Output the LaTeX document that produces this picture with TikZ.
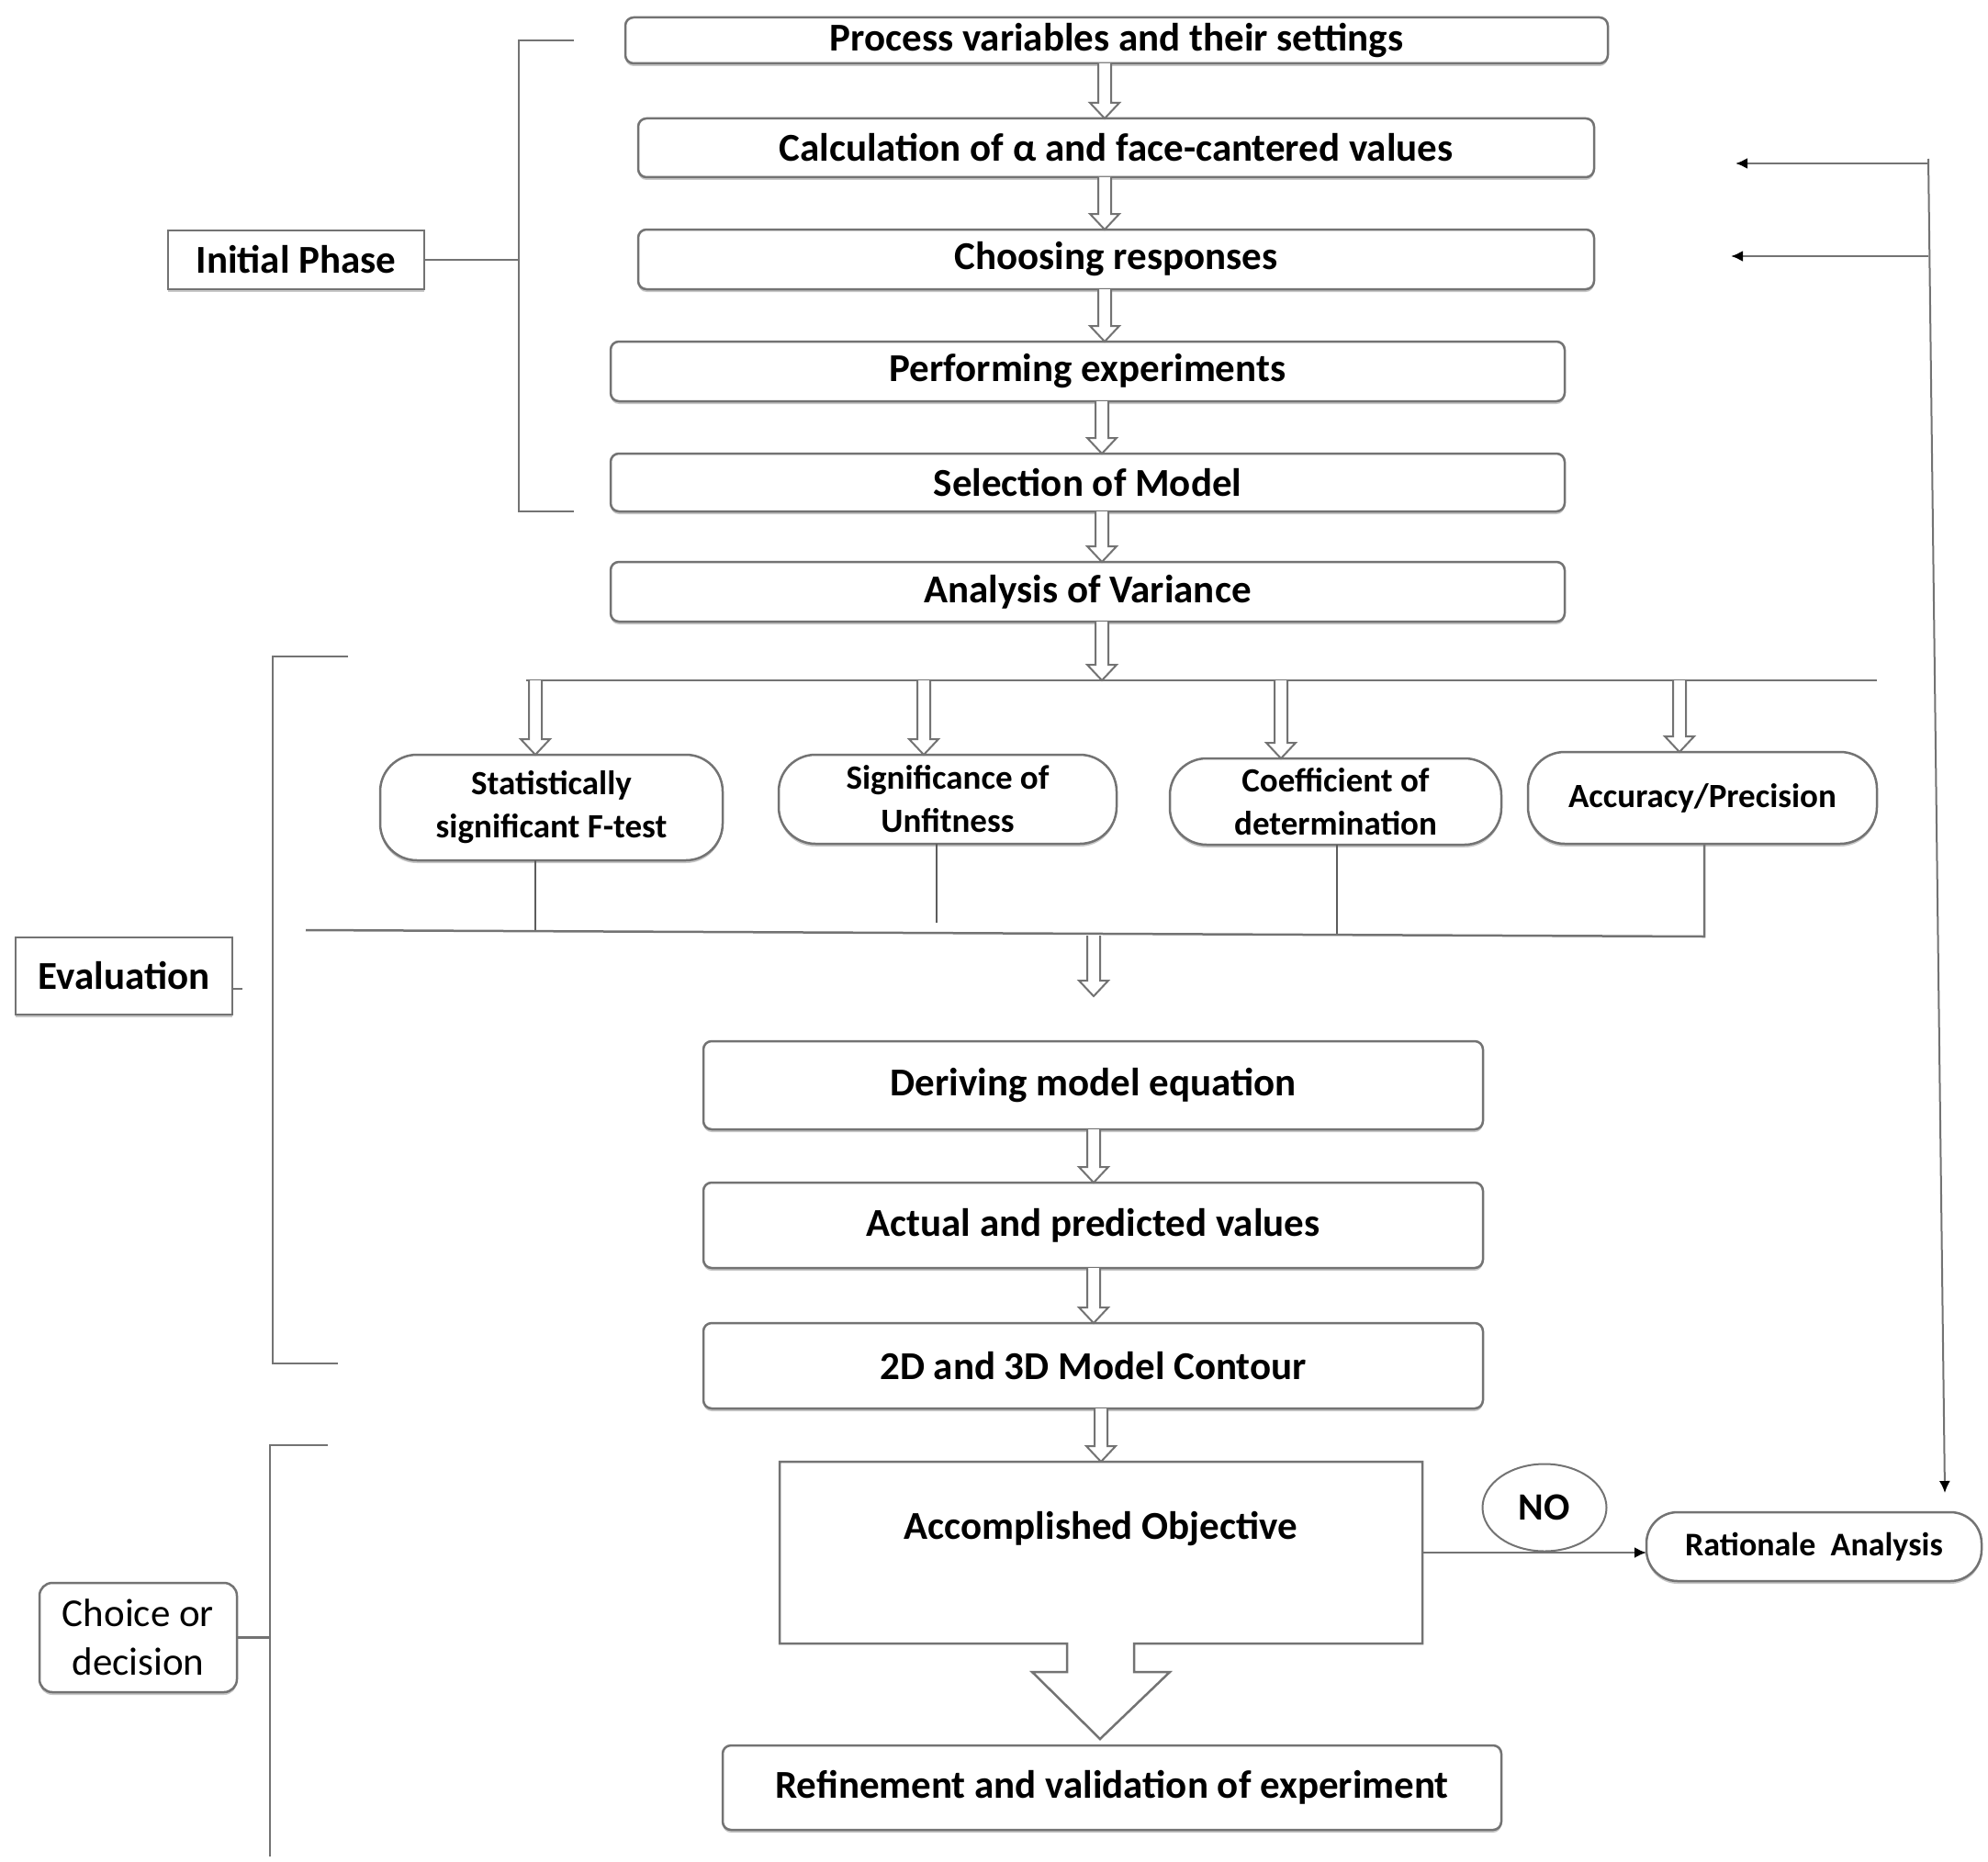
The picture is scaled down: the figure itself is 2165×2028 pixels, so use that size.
\documentclass[tikz,border=0pt]{standalone}
\usepackage{fontspec}
\setmainfont{Carlito}
\usetikzlibrary{arrows.meta,calc,shadows,shapes.geometric}
\definecolor{bd}{RGB}{115,115,115}
\begin{document}
\begin{tikzpicture}[x=1pt,y=-1pt,
  every node/.style={inner sep=0pt, outer sep=0pt},
  shad/.style={drop shadow={shadow xshift=0pt,shadow yshift=-3pt,fill=black!22,opacity=1}},
  box/.style={draw=bd, line width=2.5pt, rounded corners=9pt, fill=white, shad,
    font=\fontsize{43}{52}\selectfont\bfseries, align=center},
  oval/.style={box, rounded corners=40pt, font=\fontsize{37}{47}\selectfont\bfseries},
  sbox/.style={draw=bd, line width=2.5pt, fill=white, shad, font=\fontsize{43}{52}\selectfont\bfseries},
  hollow/.style={draw=bd, line width=2pt, fill=white,
    to path={let \p1=(\tikztostart), \p2=(\tikztotarget) in
      (\x1-7pt,\y1) -- (\x1-7pt,\y2+17pt) -- (\x1-16pt,\y2+17pt) -- (\x1,\y2)
      -- (\x1+16pt,\y2+17pt) -- (\x1+7pt,\y2+17pt) -- (\x1+7pt,\y1)}},
  ln/.style={draw=bd, line width=2.5pt},
  thinln/.style={draw=bd!80!black, line width=1.6pt},
  tip/.style={-{Latex[length=13pt,width=12pt,black]}, line width=2.5pt, draw=bd}
]
\useasboundingbox (0,0) rectangle (2165,2028);

% main boxes
\node[box, minimum width=1070pt, minimum height=50pt] (b1) at (1216,44) {Process variables and their settings};
\node[box, minimum width=1041pt, minimum height=64pt] (b2) at (1215.5,161) {Calculation of α and face-cantered values};
\node[box, minimum width=1041pt, minimum height=65pt] (b3) at (1215.5,282.5) {Choosing responses};
\node[box, minimum width=1039pt, minimum height=65pt] (b4) at (1184.5,404.5) {Performing experiments};
\node[box, minimum width=1039pt, minimum height=63pt] (b5) at (1184.5,525.5) {Selection of Model};
\node[box, minimum width=1039pt, minimum height=65pt] (b6) at (1184.5,644.5) {Analysis of Variance};

\coordinate (ax) at (1203,0);
\coordinate (ay) at (1200,0);
\draw[hollow] (b1.south -| ax) to (b2.north -| ax);
\draw[hollow] (b2.south -| ax) to (b3.north -| ax);
\draw[hollow] (b3.south -| ax) to (b4.north -| ax);
\draw[hollow] (b4.south -| ay) to (b5.north -| ay);
\draw[hollow] (b5.south -| ay) to (b6.north -| ay);

% initial phase bracket
\node[sbox, minimum width=279pt, minimum height=64pt] (ip) at (322.5,283) {Initial Phase};
\coordinate (ia) at (625,44);
\coordinate (ib) at (565,44);
\coordinate (ic) at (565,557);
\coordinate (id) at (625,557);
\draw[ln] (ia) -- (ib) -- (ic) -- (id);
\draw[ln] (ip.east) -- (ip.east -| ib);

% distribution line
\coordinate (dl) at (1200,741);
\coordinate (dl1) at (573,741);
\coordinate (dl2) at (2044,741);
\draw[ln] (dl1) -- (dl2);
\draw[hollow] (b6.south -| dl) to (dl);

% ovals
\node[oval, minimum width=373pt, minimum height=115pt] (sa) at (600.5,879.5) {Statistically\\significant F-test};
\node[oval, minimum width=368pt, minimum height=97pt] (sb) at (1032,870.5) {Significance of\\Unfitness};
\node[oval, minimum width=361pt, minimum height=94pt] (sc) at (1454.5,873) {Coefficient of\\determination};
\node[oval, minimum width=380pt, minimum height=100pt] (sd) at (1854,869) {Accuracy/Precision};

\coordinate (t1) at (583,741);
\coordinate (t2) at (1006,741);
\coordinate (t3) at (1395,741);
\coordinate (t4) at (1829,741);
\draw[hollow] (t1) to (t1 |- sa.north);
\draw[hollow] (t2) to (t2 |- sb.north);
\draw[hollow] (t3) to (t3 |- sc.north);
\draw[hollow] (t4) to (t4 |- sd.north);

% collecting line
\coordinate (bl1) at (333,1013);
\coordinate (bl2) at (1856,1020);
\coordinate (v1) at (583,1014);
\coordinate (v2) at (1020,1005);
\coordinate (v3) at (1456,1017);
\draw[thinln] (v1 |- sa.south) -- (v1);
\draw[thinln] (v2 |- sb.south) -- (v2);
\draw[thinln] (v3 |- sc.south) -- (v3);
\draw[ln] (bl1) -- (bl2) -- (bl2 |- sd.south);
\coordinate (h1) at (1191,1019);
\coordinate (h2) at (1191,1085);
\draw[hollow] (h1) to (h2);

% evaluation boxes
\node[box, minimum width=849pt, minimum height=96pt] (b7) at (1190.5,1182) {Deriving model equation};
\node[box, minimum width=849pt, minimum height=93pt] (b8) at (1190.5,1334.5) {Actual and predicted values};
\node[box, minimum width=849pt, minimum height=93pt] (b9) at (1190.5,1487.5) {2D and 3D Model Contour};
\coordinate (cx) at (1191,0);
\draw[hollow] (b7.south -| cx) to (b8.north -| cx);
\draw[hollow] (b8.south -| cx) to (b9.north -| cx);

% evaluation bracket
\node[sbox, minimum width=236pt, minimum height=84pt] (ev) at (135,1063) {Evaluation};
\coordinate (ea) at (379,715);
\coordinate (eb) at (297,715);
\coordinate (ec) at (297,1485);
\coordinate (ed) at (368,1485);
\draw[ln] (ea) -- (eb) -- (ec) -- (ed);
\draw[ln] ($(ev.east)+(0,14)$) -- ++(11,0);

% accomplished objective
\node[minimum width=700pt, minimum height=198pt] (acc) at (1199,1691) {};
\draw[hollow] (b9.south -| acc.north) to (acc.north);
\draw[ln, line join=miter, fill=white] ($(acc.south)+(-37,0)$) -- (acc.south west) -- (acc.north west)
  -- (acc.north east) -- (acc.south east) -- ($(acc.south)+(36,0)$) -- ($(acc.south)+(36,31)$)
  -- ($(acc.south)+(75,31)$) -- ($(acc.south)+(-1,104)$) -- ($(acc.south)+(-75,31)$)
  -- ($(acc.south)+(-37,31)$) -- cycle;
\node[font=\fontsize{43}{52}\selectfont\bfseries] (acct) at ($(acc.center)+(0,-26)$) {Accomplished Objective};

\node[box, minimum width=848pt, minimum height=92pt] (ref) at (1211,1947) {Refinement and validation of experiment};

% NO and rationale
\node[draw=bd, ellipse, line width=2pt, fill=white, minimum width=135pt, minimum height=95pt,
  font=\fontsize{42}{50}\selectfont\bfseries] (no) at (1682,1642) {NO};
\node[oval, rounded corners=34pt, minimum width=365pt, minimum height=75pt,
  font=\fontsize{36}{44}\selectfont\bfseries] (ra) at (1975.5,1684.5) {Rationale\ \ Analysis};
\draw[tip] (acc.east) -- (acc.east -| ra.west);

% feedback
\coordinate (fa) at (2100,173);
\coordinate (fb) at (2118,1626);
\coordinate (f1) at (2100,178);
\coordinate (f1e) at (1890,178);
\coordinate (f2) at (2100,279);
\coordinate (f2e) at (1885,279);
\draw[tip, line width=2pt] (fa) -- (fb);
\draw[tip] (f1) -- (f1e);
\draw[tip] (f2) -- (f2e);

% choice bracket
\node[box, rounded corners=14pt, minimum width=215pt, minimum height=119pt,
  font=\fontsize{43}{53}\selectfont] (cd) at (150.5,1783.5) {Choice or\\decision};
\coordinate (ca) at (357,1574);
\coordinate (cb) at (294,1574);
\coordinate (cc) at (294,2022);
\draw[ln] (ca) -- (cb) -- (cc);
\draw[ln] (cd.east) -- (cd.east -| cb);
\end{tikzpicture}
\end{document}
